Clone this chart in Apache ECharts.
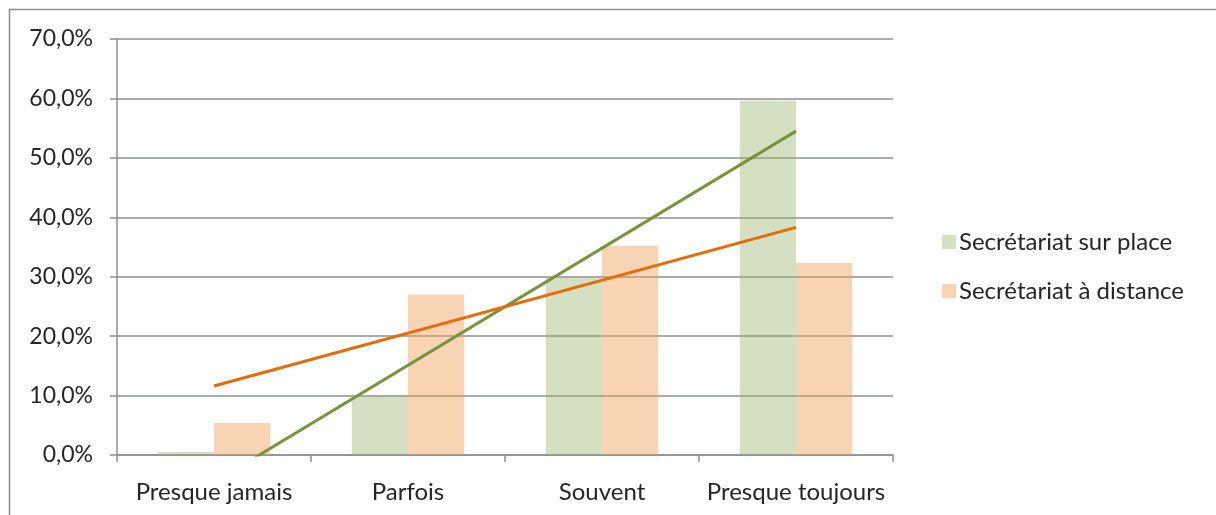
<!DOCTYPE html>
<html>
<head>
<meta charset="utf-8">
<script src="https://cdn.jsdelivr.net/npm/echarts@6/dist/echarts.min.js"></script>
<style>
html,body{margin:0;padding:0;background:#fff;}
#main{width:1216px;height:515px;}
</style>
</head>
<body>
<div id="main"></div>
<script>
var categories = ['Presque jamais', 'Parfois', 'Souvent', 'Presque toujours'];
var surPlace = [0.5, 9.9, 29.8, 59.6];
var distance = [5.4, 27.0, 35.2, 32.3];
// extrémités des courbes de tendance
var trendSurPlace = [-4.6, 54.5];
var trendDistance = [11.6, 38.3];

function trendData(ends) {
	var d = categories.map(function () { return null; });
	d[0] = ends[0];
	d[d.length - 1] = ends[1];
	return d;
}

var font = 'Lato, "Noto Sans", sans-serif';
var myChart = echarts.init(document.getElementById('main'));

var option = {
	animation: false,
	backgroundColor: '#fff',
	graphic: [{
		type: 'rect',
		shape: { x: 9.5, y: 9.5, width: 1300, height: 600 },
		style: { fill: 'none', stroke: '#8c8c8c', lineWidth: 1.5 },
		silent: true
	}],
	grid: { left: 117, right: 323, top: 39, bottom: 60 },
	legend: {
		orient: 'vertical',
		left: 937,
		top: 225,
		itemWidth: 14,
		itemHeight: 14,
		itemGap: 25,
		data: ['Secrétariat sur place', 'Secrétariat à distance'],
		textStyle: { fontFamily: font, fontSize: 24, lineHeight: 24, color: '#262626', padding: [0, 0, 0, -2] },
		icon: 'rect'
	},
	xAxis: {
		type: 'category',
		data: categories,
		axisLine: { lineStyle: { color: '#8b8f94', width: 1.5 } },
		axisTick: { show: true, interval: 0, length: 7, lineStyle: { color: '#8b8f94', width: 1.5 } },
		axisLabel: { interval: 0, fontFamily: font, fontSize: 24, color: '#262626', margin: 25 }
	},
	yAxis: {
		type: 'value',
		min: 0,
		max: 70,
		interval: 10,
		axisLine: { show: true, lineStyle: { color: '#8b8f94', width: 1.5 } },
		axisTick: { show: true, length: 7, lineStyle: { color: '#8b8f94', width: 1.5 } },
		splitLine: { lineStyle: { color: '#8b8f94', width: 1.5 } },
		axisLabel: {
			fontFamily: font, fontSize: 23, color: '#262626', margin: 24,
			formatter: function (v) { return v.toFixed(1).replace('.', ',') + '%'; }
		}
	},
	series: [
		{
			name: 'Secrétariat sur place',
			type: 'bar',
			data: surPlace,
			barGap: '0%',
			barCategoryGap: '42%',
			itemStyle: { color: 'rgba(155,180,110,0.42)' },
			z: 3
		},
		{
			name: 'Secrétariat à distance',
			type: 'bar',
			data: distance,
			itemStyle: { color: 'rgba(240,160,90,0.45)' },
			z: 3
		},
		{
			name: 'tendance sur place',
			type: 'line',
			data: trendData(trendSurPlace),
			connectNulls: true,
			clip: true,
			symbol: 'none',
			lineStyle: { color: '#77933c', width: 3 },
			z: 4
		},
		{
			name: 'tendance distance',
			type: 'line',
			data: trendData(trendDistance),
			connectNulls: true,
			clip: true,
			symbol: 'none',
			lineStyle: { color: '#e46c0a', width: 3 },
			z: 4
		}
	]
};

myChart.setOption(option);
</script>
</body>
</html>
